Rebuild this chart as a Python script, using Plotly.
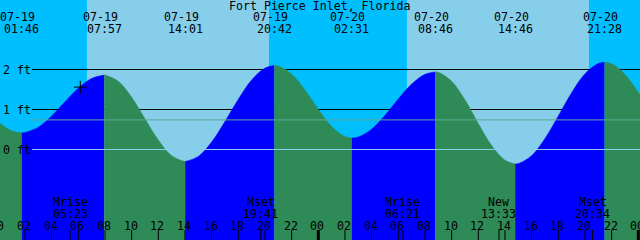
import plotly.graph_objects as go

# ---------------- data ----------------
TITLE = "Fort Pierce Inlet, Florida"
DAY_OFFSET = {"07-19": 0, "07-20": 24, "07-21": 48}

TIDE_DATES = ["07-19", "07-19", "07-19", "07-19", "07-20", "07-20", "07-20", "07-20"]
TIDE_TIMES = ["01:46", "07:57", "14:01", "20:42", "02:31", "08:46", "14:46", "21:28"]
TIDE_HEIGHTS = [0.42, 1.86, -0.30, 2.10, 0.29, 1.94, -0.36, 2.18]

# water level (ft), hour 0 = 07-19 00:00 (last point = right edge)
CURVE_HOURS = list(range(0, 49)) + [48.2]
CURVE_HEIGHTS = [0.69, 0.47, 0.425, 0.557, 0.836, 1.192, 1.534, 1.777, 1.86, 1.704,
                 1.307, 0.771, 0.237, -0.154, -0.30, -0.174, 0.186, 0.699, 1.256, 1.737,
                 2.035, 2.088, 1.886, 1.486, 1.005, 0.577, 0.325, 0.314, 0.509, 0.854,
                 1.263, 1.635, 1.879, 1.931, 1.709, 1.241, 0.650, 0.098, -0.268, -0.352,
                 -0.154, 0.275, 0.840, 1.421, 1.894, 2.150, 2.142, 1.878, 1.43, 1.33]

SUN_DATES = ["07-19", "07-19", "07-20", "07-20"]
SUN_EVENTS = ["rise", "set", "rise", "set"]
SUN_TIMES = ["06:39", "20:18", "06:39", "20:18"]

MOON_DATES = ["07-19", "07-19", "07-20", "07-20", "07-20"]
MOON_EVENTS = ["Mrise", "Mset", "Mrise", "New", "Mset"]
MOON_TIMES = ["05:23", "19:41", "06:21", "13:33", "20:34"]

LEVEL_VALUES = [2, 1, 0]
LEVEL_LABELS = ["2 ft", "1 ft", "0 ft"]
MSL_LEVEL = 0.74

HOUR_TICKS = list(range(0, 49, 2))
HOUR_LABELS = ["%02d" % (h % 24) for h in HOUR_TICKS]
MIDNIGHTS = [0, 24, 48]

NOW_DATE, NOW_TIME, NOW_HEIGHT = "07-19", "06:09", 1.56

# ---------------- styling ----------------
DAY_SKY = "#87CEEB"
NIGHT_SKY = "#00BFFF"
FLOOD = "#0000FF"
EBB = "#2E8B57"
MSL_COLOR = "#5FA892"
DATUM_COLOR = "#87CEEB"
FONT = dict(family="DejaVu Sans Mono", size=11.6, color="black")
W, H = 640, 240
X_RANGE = [0.1275, 48.1275]
Y_RANGE = [-2.2625, 3.7375]


def hours(date, hhmm):
    hh, mm = hhmm.split(":")
    return DAY_OFFSET[date] + int(hh) + int(mm) / 60.0


def ypaper(pix):
    return 1 - pix / H


def xpaper(t):
    # position of an hour value on the x axis, as a fraction of the plot width
    return (t - X_RANGE[0]) / (X_RANGE[1] - X_RANGE[0])


tide_t = [hours(d, t) for d, t in zip(TIDE_DATES, TIDE_TIMES)]
pts = sorted(list(zip(CURVE_HOURS, CURVE_HEIGHTS)) + list(zip(tide_t, TIDE_HEIGHTS)))
bounds = [CURVE_HOURS[0]] + tide_t + [CURVE_HOURS[-1]]

fig = go.Figure()
for a, b in zip(bounds[:-1], bounds[1:]):
    seg = [p for p in pts if a - 1e-9 <= p[0] <= b + 1e-9]
    xs = [p[0] for p in seg]
    ys = [p[1] for p in seg]
    color = FLOOD if ys[-1] > ys[0] else EBB
    fig.add_trace(go.Scatter(x=[xs[0], xs[-1]], y=[Y_RANGE[0] - 1] * 2, mode="lines",
                             line=dict(width=0), hoverinfo="skip", showlegend=False))
    fig.add_trace(go.Scatter(x=xs, y=ys, mode="lines", fill="tonexty", fillcolor=color,
                             line=dict(width=0.5, color=color, shape="spline"),
                             hoverinfo="skip", showlegend=False))

# current-time marker
fig.add_trace(go.Scatter(x=[hours(NOW_DATE, NOW_TIME)], y=[NOW_HEIGHT], mode="markers",
                         marker=dict(symbol="cross-thin", size=9,
                                     line=dict(width=1, color="black")),
                         hoverinfo="skip", showlegend=False))

shapes = []
# day / night bands
sun_t = [hours(d, t) for d, t in zip(SUN_DATES, SUN_TIMES)]
edges = [X_RANGE[0] - 2] + sun_t + [X_RANGE[1] + 2]
first_is_night = SUN_EVENTS[0] == "rise"
for i, (a, b) in enumerate(zip(edges[:-1], edges[1:])):
    night = (i % 2 == 0) == first_is_night
    shapes.append(dict(type="rect", xref="x", yref="paper", x0=a, x1=b, y0=0, y1=1,
                       fillcolor=NIGHT_SKY if night else DAY_SKY, line=dict(width=0),
                       layer="below"))
# height lines
for v in LEVEL_VALUES:
    if v == 0:
        shapes.append(dict(type="line", xref="paper", yref="y", x0=32 / W, x1=1, y0=v, y1=v,
                           line=dict(color=DATUM_COLOR, width=1), layer="above"))
    else:
        shapes.append(dict(type="line", xref="paper", yref="y", x0=32 / W, x1=1, y0=v, y1=v,
                           line=dict(color="black", width=1), layer="below"))
shapes.append(dict(type="line", xref="paper", yref="y", x0=32 / W, x1=1, y0=MSL_LEVEL,
                   y1=MSL_LEVEL, line=dict(color=MSL_COLOR, width=1), layer="above"))
# ticks
for h in HOUR_TICKS:
    shapes.append(dict(type="line", xref="x", yref="paper", x0=h, x1=h, y0=0, y1=10 / H,
                       line=dict(color="black", width=3 if h in MIDNIGHTS else 1),
                       layer="above"))
moon_t = [hours(d, t) for d, t in zip(MOON_DATES, MOON_TIMES)]
for t in moon_t:
    shapes.append(dict(type="line", xref="x", yref="paper", x0=t, x1=t, y0=0, y1=10 / H,
                       line=dict(color="black", width=1), layer="above"))

ann = []
ann.append(dict(text=TITLE, xref="paper", yref="paper", x=319 / W, y=ypaper(6),
                xanchor="center", yanchor="middle", showarrow=False, font=FONT))
for d, t, x in zip(TIDE_DATES, TIDE_TIMES, tide_t):
    ann.append(dict(text=d, xref="x", yref="paper", x=x, y=ypaper(17.5), xshift=-4,
                    xanchor="center", yanchor="middle", showarrow=False, font=FONT))
    ann.append(dict(text=t, xref="x", yref="paper", x=x, y=ypaper(29),
                    xanchor="center", yanchor="middle", showarrow=False, font=FONT))
for v, lab in zip(LEVEL_VALUES, LEVEL_LABELS):
    ann.append(dict(text=lab, xref="paper", yref="y", x=0, y=v, xshift=1,
                    xanchor="left", yanchor="middle", showarrow=False, font=FONT))
for ev, t, x in zip(MOON_EVENTS, MOON_TIMES, moon_t):
    ann.append(dict(text=ev, xref="x", yref="paper", x=x, y=ypaper(202),
                    xanchor="center", yanchor="middle", showarrow=False, font=FONT))
    ann.append(dict(text=t, xref="x", yref="paper", x=x, y=ypaper(213.5),
                    xanchor="center", yanchor="middle", showarrow=False, font=FONT))
for h, lab in zip(HOUR_TICKS, HOUR_LABELS):
    ann.append(dict(text=lab, xref="paper", yref="paper", x=xpaper(h), y=ypaper(226),
                    xshift=-1, xanchor="center", yanchor="middle", showarrow=False,
                    font=FONT))

fig.update_layout(width=W, height=H, margin=dict(l=0, r=0, t=0, b=0),
                  paper_bgcolor=DAY_SKY, plot_bgcolor=DAY_SKY,
                  xaxis=dict(range=X_RANGE, visible=False, fixedrange=True),
                  yaxis=dict(range=Y_RANGE, visible=False, fixedrange=True),
                  shapes=shapes, annotations=ann, showlegend=False)
fig.write_html("out.html", config={"displayModeBar": False})
